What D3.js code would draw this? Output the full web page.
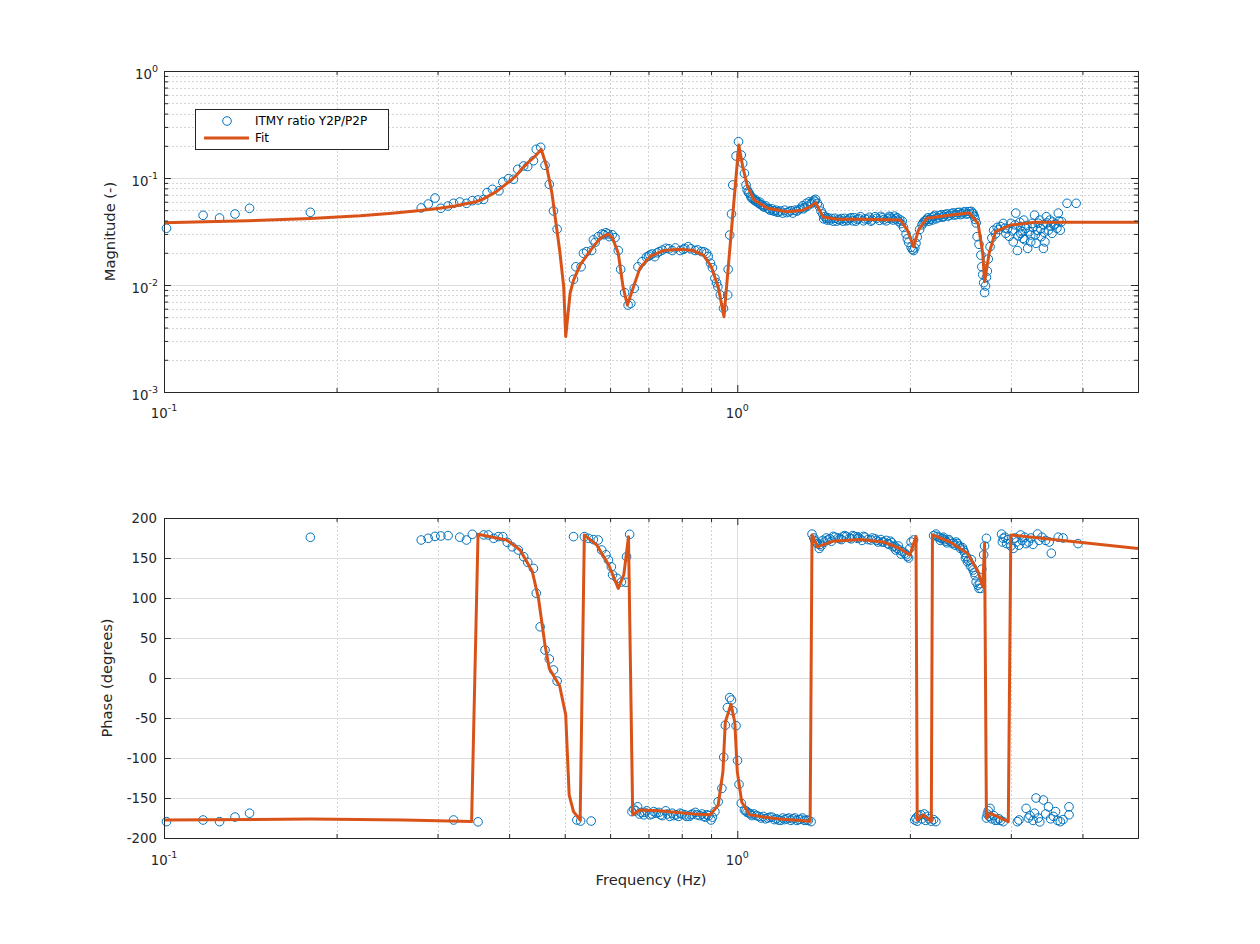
<!DOCTYPE html>
<html>
<head>
<meta charset="utf-8">
<script src="https://cdn.jsdelivr.net/npm/d3@7"></script>
<style>
body { margin: 0; background: #fff; }
svg { font-family: "DejaVu Sans", sans-serif; }
</style>
</head>
<body>
<svg id="fig" width="1260" height="944"></svg>
<script>
// measured ratio, magnitude: [frequency (Hz), magnitude]
var magData = [
  [0.101,0.0339],[0.117,0.0448],[0.125,0.0423],[0.133,0.0461],[0.141,0.0521],[0.180,0.0478],
  [0.281,0.0525],[0.289,0.0571],[0.297,0.065],[0.304,0.0521],[0.313,0.0547],[0.320,0.058],[0.328,0.0597],
  [0.337,0.058],[0.345,0.0614],[0.353,0.0623],[0.361,0.063],[0.366,0.073],[0.374,0.0784],[0.384,0.076],
  [0.390,0.0918],[0.399,0.0986],[0.407,0.0973],[0.414,0.1206],[0.424,0.1295],[0.431,0.128],[0.441,0.145],
  [0.446,0.1855],[0.454,0.1936],[0.462,0.1314],[0.470,0.0873],[0.478,0.0492],[0.485,0.0332],
  [0.518,0.0113],[0.523,0.0148],[0.534,0.0148],[0.539,0.0198],[0.546,0.0205],[0.557,0.021],[0.561,0.0264],
  [0.565,0.025],[0.572,0.0283],[0.581,0.030],[0.585,0.0295],[0.590,0.0308],[0.595,0.030],[0.598,0.0283],
  [0.605,0.0295],[0.612,0.0277],[0.620,0.021],[0.626,0.0140],[0.636,0.00848],[0.645,0.0065],[0.652,0.00672],
  [0.661,0.0093],[0.671,0.0148],[0.682,0.0165],[0.694,0.0182],[0.700,0.0186],[0.704,0.0191],[0.710,0.0195],
  [0.718,0.0184],[0.725,0.0200],[0.731,0.0205],[0.740,0.0212],[0.751,0.0220],[0.760,0.0218],[0.770,0.021],
  [0.780,0.0222],[0.795,0.021],[0.805,0.0215],[0.810,0.0220],[0.821,0.0228],[0.830,0.0218],[0.844,0.021],
  [0.853,0.0213],[0.866,0.0205],[0.875,0.0204],[0.884,0.0198],[0.890,0.0185],[0.898,0.0160],[0.905,0.0145],
  [0.914,0.01155],[0.920,0.0105],[0.925,0.00964],[0.934,0.00807],[0.946,0.00606],[0.962,0.00807],[0.964,0.014],
  [0.970,0.0293],[0.977,0.0461],[0.982,0.0861],[0.995,0.1606],[1.005,0.2185],[1.016,0.164],[1.022,0.137],
  [1.029,0.1106],[1.036,0.086],[1.040,0.078],[1.045,0.074],[1.049,0.072],[1.055,0.068],[1.058,0.0655],
  [1.063,0.0646],[1.070,0.062],[1.075,0.063],[1.078,0.0605],[1.083,0.060],[1.090,0.058],[1.095,0.0595],
  [1.098,0.0565],[1.104,0.056],[1.110,0.054],[1.115,0.0535],[1.120,0.055],[1.130,0.0521],[1.135,0.0515],
  [1.140,0.050],[1.150,0.0515],[1.155,0.0495],[1.160,0.049],[1.170,0.050],[1.175,0.0478],[1.180,0.0484],
  [1.190,0.0492],[1.200,0.047],[1.210,0.050],[1.220,0.0475],[1.230,0.0484],[1.240,0.0495],[1.250,0.047],
  [1.260,0.050],[1.270,0.049],[1.280,0.0505],[1.290,0.0521],[1.300,0.055],[1.305,0.0515],[1.310,0.053],
  [1.320,0.058],[1.325,0.0545],[1.335,0.060],[1.345,0.0575],[1.350,0.059],[1.360,0.062],[1.365,0.0605],
  [1.370,0.0632],[1.380,0.058],[1.390,0.0543],[1.400,0.049],[1.410,0.046],[1.415,0.0415],[1.420,0.0435],
  [1.430,0.042],[1.435,0.0405],[1.440,0.0425],[1.450,0.0404],[1.460,0.0418],[1.470,0.0395],[1.480,0.042],
  [1.490,0.0395],[1.500,0.041],[1.510,0.0404],[1.520,0.0418],[1.530,0.0395],[1.540,0.042],[1.550,0.0398],
  [1.560,0.0405],[1.570,0.042],[1.580,0.0425],[1.590,0.0398],[1.600,0.0425],[1.610,0.0395],[1.620,0.041],
  [1.630,0.0418],[1.640,0.0435],[1.660,0.0398],[1.670,0.0415],[1.690,0.0412],[1.700,0.043],[1.710,0.0395],
  [1.720,0.0405],[1.740,0.0435],[1.750,0.042],[1.770,0.0402],[1.780,0.0438],[1.790,0.0425],[1.800,0.0408],
  [1.820,0.0398],[1.830,0.042],[1.840,0.0438],[1.850,0.0432],[1.860,0.0418],[1.870,0.0405],[1.880,0.044],
  [1.890,0.0415],[1.900,0.0425],[1.910,0.0395],[1.920,0.041],[1.930,0.0375],[1.940,0.0395],[1.950,0.0345],
  [1.970,0.030],[1.980,0.027],[1.990,0.025],[2.010,0.0225],[2.020,0.0215],[2.030,0.021],[2.040,0.0222],
  [2.050,0.0245],[2.060,0.028],[2.080,0.033],[2.100,0.0365],[2.110,0.0382],[2.120,0.0395],[2.130,0.040],
  [2.140,0.041],[2.150,0.0425],[2.160,0.0395],[2.170,0.041],[2.180,0.0425],[2.190,0.0405],[2.200,0.0435],
  [2.210,0.0448],[2.220,0.0415],[2.240,0.0425],[2.250,0.0445],[2.270,0.0455],[2.280,0.043],[2.290,0.0438],
  [2.300,0.0455],[2.320,0.0462],[2.330,0.044],[2.350,0.0448],[2.360,0.0465],[2.380,0.0472],[2.390,0.045],
  [2.410,0.0455],[2.420,0.0475],[2.440,0.0478],[2.450,0.0455],[2.470,0.0462],[2.480,0.048],[2.500,0.0485],
  [2.510,0.046],[2.530,0.0465],[2.540,0.0485],[2.560,0.0488],[2.570,0.047],[2.580,0.0462],[2.590,0.044],
  [2.600,0.041],[2.610,0.038],[2.620,0.0283],[2.640,0.024],[2.660,0.019],[2.670,0.0148],[2.680,0.0125],
  [2.690,0.0105],[2.700,0.0085],[2.710,0.0098],[2.720,0.0118],[2.730,0.0135],[2.740,0.0175],[2.760,0.0228],
  [2.780,0.0275],[2.800,0.0325],[2.820,0.030],[2.840,0.0345],[2.860,0.033],[2.880,0.0351],[2.910,0.0376],
  [2.930,0.034],[2.940,0.0304],[2.960,0.0335],[2.980,0.0285],[3.000,0.0377],[3.020,0.032],[3.030,0.0253],
  [3.050,0.0365],[3.060,0.047],[3.080,0.021],[3.090,0.0288],[3.110,0.0385],[3.120,0.0304],[3.120,0.0351],
  [3.140,0.0315],[3.150,0.0273],[3.160,0.0404],[3.170,0.0265],[3.180,0.0339],[3.200,0.036],[3.210,0.022],
  [3.230,0.0315],[3.250,0.0293],[3.250,0.0253],[3.270,0.0377],[3.280,0.0345],[3.300,0.045],[3.310,0.0295],
  [3.320,0.0245],[3.340,0.0325],[3.350,0.0378],[3.370,0.0404],[3.380,0.0335],[3.390,0.0283],[3.420,0.0364],
  [3.420,0.022],[3.430,0.031],[3.440,0.0253],[3.460,0.0435],[3.470,0.038],[3.490,0.0325],[3.510,0.0404],
  [3.520,0.0355],[3.540,0.0304],[3.550,0.0388],[3.570,0.0364],[3.590,0.0372],[3.610,0.0339],[3.630,0.047],
  [3.640,0.0395],[3.660,0.0325],[3.680,0.0391],[3.760,0.058],[3.900,0.058]
];

// measured ratio, phase: [frequency (Hz), degrees]
var phaseData = [
  [0.101,-179.5],[0.117,-177.5],[0.125,-179.5],[0.133,-173.8],[0.141,-169],[0.180,175.9],
  [0.281,172.5],[0.289,174.6],[0.297,177],[0.304,177.5],[0.313,178],[0.320,-177.5],[0.328,176],
  [0.337,172.5],[0.345,179.6],[0.353,-179.8],[0.361,178.8],[0.368,178.8],[0.376,174.6],[0.383,176.7],
  [0.390,176.7],[0.397,169.6],[0.405,164],[0.415,160],[0.424,151.6],[0.431,144.6],[0.441,137],
  [0.446,106],[0.453,64],[0.462,35],[0.470,23.8],[0.478,10],[0.485,-3.8],
  [0.518,176.7],[0.525,-177.5],[0.533,-178.8],[0.541,176.7],[0.550,174.6],[0.556,-178.8],[0.561,173],
  [0.572,172.5],[0.580,160],[0.590,154],[0.596,147.5],[0.603,139],[0.606,129],[0.617,124.6],[0.628,120],
  [0.639,119.6],[0.641,151.6],[0.649,179.6],[0.655,-167],[0.660,-164],[0.665,-166],[0.670,-161],[0.675,-170],
  [0.680,-168],[0.687,-171],[0.690,-168],[0.695,-166],[0.704,-171],[0.710,-170],[0.715,-167],[0.722,-169],
  [0.730,-168],[0.735,-171],[0.740,-172],[0.750,-166],[0.755,-170],[0.762,-173],[0.770,-169],[0.775,-172],
  [0.782,-171],[0.790,-173],[0.795,-169],[0.800,-170],[0.810,-171],[0.815,-173],[0.825,-173],[0.830,-171],
  [0.835,-170],[0.845,-168],[0.850,-171],[0.860,-172],[0.868,-170],[0.874,-173],[0.880,-174],[0.885,-171],
  [0.892,-172],[0.900,-177.5],[0.905,-174],[0.914,-167],[0.926,-154.6],
  [0.940,-138],[0.947,-99],[0.953,-59],[0.961,-37],[0.970,-24.6],[0.977,-27.5],[0.982,-41],[0.995,-59.6],
  [1.001,-103],[1.007,-133],[1.016,-156.6],[1.029,-165],[1.035,-166],[1.040,-168],[1.049,-169],[1.055,-170],
  [1.060,-172],[1.070,-170],[1.080,-172],[1.090,-173],[1.100,-175],[1.110,-173],[1.120,-176],[1.130,-175],
  [1.140,-174],[1.150,-174],[1.160,-177],[1.170,-176],[1.180,-177.5],[1.190,-178],[1.200,-175],[1.210,-177],
  [1.220,-176],[1.230,-175],[1.240,-178],[1.250,-176],[1.260,-175],[1.270,-178],[1.280,-177],[1.290,-176.6],
  [1.300,-175],[1.310,-178],[1.320,-177.5],[1.330,-178],[1.345,-179.5],
  [1.350,179.9],[1.360,175],[1.365,172],[1.370,170],[1.380,168],[1.390,162],[1.395,167],[1.400,165],
  [1.410,172],[1.420,170],[1.430,175],[1.440,172.5],[1.450,174],[1.460,171],[1.470,177],[1.480,176],
  [1.500,175],[1.510,174],[1.520,173],[1.530,177],[1.540,178],[1.550,176.7],[1.570,175],[1.580,174],
  [1.590,178],[1.600,177],[1.620,176.7],[1.620,174.6],[1.630,175],[1.650,172],[1.660,177],[1.670,176],
  [1.690,173],[1.710,172.5],[1.720,175],[1.740,174],[1.750,172],[1.760,170],[1.780,173],[1.790,170],
  [1.800,170],[1.820,172],[1.830,168],[1.840,167],[1.850,171],[1.860,169],[1.870,164],[1.880,165],
  [1.890,160],[1.900,162],[1.910,165],[1.920,160],[1.930,155],[1.940,158],[1.960,156],[1.970,154],
  [1.980,152],[1.990,150],[2.000,162],[2.010,170],[2.030,172.5],
  [2.040,-177.5],[2.050,-175],[2.060,-179],[2.070,-172],[2.090,-171],[2.100,-176],[2.120,-170],[2.130,-178],
  [2.150,-173],[2.160,-176],[2.180,-179],[2.200,-177],[2.220,-179.5],
  [2.200,178],[2.220,179.9],[2.230,177],[2.250,176],[2.260,172],[2.270,174],[2.280,174.6],[2.290,176],
  [2.300,173],[2.310,171],[2.320,169],[2.340,173],[2.350,171],[2.370,168],[2.380,169],[2.400,166],
  [2.410,170],[2.420,168],[2.440,165],[2.450,162],[2.470,163],[2.480,160],[2.490,157],[2.500,150],
  [2.510,152],[2.520,145.4],[2.530,147],[2.550,140],[2.560,148],[2.570,138],[2.580,135],[2.590,132],
  [2.600,128],[2.610,120],[2.630,116],[2.640,112],[2.650,118],[2.660,112],
  [2.670,136],[2.690,154],[2.700,165],[2.720,174.6],
  [2.720,-175],[2.730,-170],[2.740,-166],[2.750,-173],[2.760,-163],[2.780,-176],[2.800,-172],[2.820,-178],
  [2.840,-177.5],[2.860,-176],[2.880,-178],[2.910,-179.6],
  [2.890,179.9],[2.900,170],[2.910,174.6],[2.930,176],[2.950,168],[2.970,173],[3.000,165],[3.030,162],
  [3.050,175],[3.070,170],[3.100,166],[3.120,178.8],[3.140,172],[3.170,176],[3.190,168],[3.220,170],
  [3.250,175],[3.280,167],[3.340,180],[3.360,172],[3.400,176],[3.450,172],[3.500,170],[3.530,156],
  [3.630,176],[3.700,175],[3.930,168],
  [3.080,-179.6],[3.100,-177.5],[3.190,-163],[3.220,-175],[3.240,-172],[3.280,-178],[3.300,-169],[3.320,-150],
  [3.350,-175],[3.370,-179.9],[3.420,-152.5],[3.450,-170],[3.490,-161],[3.520,-176],[3.560,-173],[3.590,-167],
  [3.620,-178],[3.660,-179.6],[3.700,-177],[3.790,-161],[3.790,-171]
];

// fitted model, magnitude
var fitMag = [
  [0.1,0.0382],[0.14,0.0398],[0.18,0.0418],[0.22,0.0443],[0.25,0.0468],[0.28,0.0496],[0.3,0.052],
  [0.32,0.0545],[0.35,0.060],[0.36,0.0635],[0.38,0.0745],[0.39,0.083],[0.41,0.103],[0.42,0.12],
  [0.43,0.137],[0.445,0.162],[0.455,0.185],[0.465,0.128],[0.475,0.072],[0.49,0.021],[0.498,0.0096],
  [0.502,0.0033],[0.511,0.0084],[0.518,0.0111],[0.532,0.0154],[0.555,0.0212],[0.576,0.0273],[0.596,0.030],
  [0.606,0.0273],[0.620,0.0198],[0.632,0.0096],[0.643,0.0065],[0.659,0.0096],[0.676,0.0143],[0.704,0.0184],
  [0.743,0.021],[0.795,0.0216],[0.838,0.021],[0.873,0.019],[0.901,0.0148],[0.926,0.0096],[0.948,0.00506],
  [1.006,0.203],[1.022,0.128],[1.042,0.083],[1.07,0.0623],[1.13,0.0521],[1.22,0.0484],[1.30,0.050],
  [1.34,0.054],[1.37,0.0588],[1.41,0.0435],[1.49,0.0411],[1.64,0.0411],[1.925,0.0404],[1.98,0.0325],
  [2.03,0.0228],[2.07,0.0325],[2.14,0.042],[2.36,0.045],[2.54,0.047],[2.63,0.0376],[2.68,0.0198],
  [2.70,0.0107],[2.75,0.0198],[2.82,0.0315],[3.0,0.0364],[3.30,0.0385],[5.0,0.0385]
];

// fitted model, phase
var fitPhase = [
  [0.1,-177.5],[0.18,-176.3],[0.262,-177.5],[0.344,-179.5],[0.353,179.6],[0.396,172.5],[0.418,160],
  [0.439,133],[0.45,99.6],[0.462,41],[0.47,12],[0.49,-10],[0.502,-46],[0.509,-146],[0.518,-167],
  [0.532,-177.5],[0.541,178.8],[0.569,166],[0.597,141],[0.62,112],[0.634,129],[0.646,176.7],[0.657,-171],
  [0.676,-165],[0.731,-166],[0.839,-170],[0.897,-171],[0.926,-159],[0.944,-117],[0.953,-55],[0.975,-33],
  [0.99,-55],[1.0,-117],[1.018,-155],[1.05,-171],[1.17,-176],[1.34,-179],[1.35,178.8],[1.38,164],
  [1.47,171],[1.64,173],[1.80,170],[1.92,162],[2.0,153.8],[2.05,177],[2.06,-177.5],[2.11,-171],
  [2.18,-179.5],[2.19,178.8],[2.35,170],[2.52,156],[2.63,133],[2.68,114],[2.70,168],[2.72,-175],
  [2.76,-169],[2.97,-179.5],[3.0,178.8],[5.0,162]
];

var xMajorTicks = [0.1, 1];
var xMinorTicks = [0.2, 0.3, 0.4, 0.5, 0.6, 0.7, 0.8, 0.9, 2, 3, 4];
var magMajorTicks = [0.001, 0.01, 0.1, 1];
var magTickExp = ["-3", "-2", "-1", "0"];
var phaseTicks = [-200, -150, -100, -50, 0, 50, 100, 150, 200];

var legendNames = ["ITMY ratio Y2P/P2P", "Fit"];

var blue = "#0072BD", orange = "#D95319", ink = "#262626";

var svg = d3.select("#fig");
var left = 164, right = 1138;
var magTop = 71, magBottom = 392;
var phTop = 518, phBottom = 838;

var x = d3.scaleLog().domain([0.1, 5]).range([left, right]);
var yMag = d3.scaleLog().domain([0.001, 1]).range([magBottom, magTop]);
var yPh = d3.scaleLinear().domain([-200, 200]).range([phBottom, phTop]);

// minor y ticks of the magnitude plot: 2..9 in each decade
var magMinorTicks = yMag.ticks().filter(function(d) {
    return magMajorTicks.indexOf(d) < 0 && d > 0.001 && d < 1;
});

function gridLines(g, xs, ys, top, bottom, dashed) {
    var sel = g.append("g");
    xs.forEach(function(v) {
        var px = Math.round(x(v)) + 0.5;
        sel.append("line")
            .attr("x1", px).attr("x2", px)
            .attr("y1", top).attr("y2", bottom);
    });
    ys.forEach(function(p) {
        var py = Math.round(p) + 0.5;
        sel.append("line")
            .attr("x1", left).attr("x2", right)
            .attr("y1", py).attr("y2", py);
    });
    if (dashed) {
        sel.selectAll("line").attr("stroke", "#d4d4d4").attr("stroke-width", 1)
            .attr("stroke-dasharray", "2,2");
    } else {
        sel.selectAll("line").attr("stroke", "#dedede").attr("stroke-width", 1);
    }
}

function boxAxes(yScale, yMaj, yMin, top, bottom) {
    var sets = [
        [d3.axisBottom(x), xMajorTicks, 7, "translate(0," + bottom + ")"],
        [d3.axisBottom(x), xMinorTicks, 4, "translate(0," + bottom + ")"],
        [d3.axisTop(x), xMajorTicks, 7, "translate(0," + top + ")"],
        [d3.axisTop(x), xMinorTicks, 4, "translate(0," + top + ")"],
        [d3.axisLeft(yScale), yMaj, 7, "translate(" + left + ",0)"],
        [d3.axisRight(yScale), yMaj, 7, "translate(" + right + ",0)"]
    ];
    if (yMin.length) {
        sets.push([d3.axisLeft(yScale), yMin, 4, "translate(" + left + ",0)"]);
        sets.push([d3.axisRight(yScale), yMin, 4, "translate(" + right + ",0)"]);
    }
    sets.forEach(function(s) {
        var g = svg.append("g")
            .attr("transform", s[3])
            .call(s[0].tickValues(s[1]).tickSize(-s[2]).tickSizeOuter(0).tickFormat(""));
        g.selectAll("path, line").attr("stroke", ink).attr("stroke-width", 1);
        g.selectAll("text").remove();
    });
}

function powLabel(g, px, py, anchor, exp) {
    var t = g.append("text")
        .attr("x", px).attr("y", py)
        .attr("text-anchor", anchor)
        .attr("fill", ink)
        .style("font-size", "13.3px");
    t.append("tspan").text("10");
    t.append("tspan").attr("dy", -7).style("font-size", "9.5px").text(exp);
}

// ---------- magnitude panel ----------
var gMag = svg.append("g");
gridLines(gMag, xMinorTicks, magMinorTicks.map(yMag), magTop, magBottom, true);
gridLines(gMag, [1], [0.01, 0.1].map(yMag), magTop, magBottom, false);

gMag.selectAll("circle.mag")
    .data(magData)
    .enter()
    .append("circle")
    .attr("class", "mag")
    .attr("cx", function(d) { return x(d[0]); })
    .attr("cy", function(d) { return yMag(d[1]); })
    .attr("r", 4.3)
    .attr("fill", "none")
    .attr("stroke", blue)
    .attr("stroke-width", 1);

var magLine = d3.line()
    .x(function(d) { return x(d[0]); })
    .y(function(d) { return yMag(d[1]); });

gMag.append("path")
    .datum(fitMag)
    .attr("d", magLine)
    .attr("fill", "none")
    .attr("stroke", orange)
    .attr("stroke-width", 3)
    .attr("stroke-linejoin", "round");

boxAxes(yMag, magMajorTicks, magMinorTicks, magTop, magBottom);

magMajorTicks.forEach(function(v, i) {
    powLabel(svg, 158, yMag(v) + 8, "end", magTickExp[i]);
});
powLabel(svg, x(0.1), magBottom + 26, "middle", "-1");
powLabel(svg, x(1), magBottom + 26, "middle", "0");

svg.append("text")
    .attr("transform", "translate(115," + ((magTop + magBottom) / 2) + ") rotate(-90)")
    .attr("text-anchor", "middle")
    .attr("fill", ink)
    .style("font-size", "14.7px")
    .text("Magnitude (-)");

// ---------- phase panel ----------
var gPh = svg.append("g");
gridLines(gPh, xMinorTicks, [], phTop, phBottom, true);
gridLines(gPh, [1], phaseTicks.slice(1, -1).map(yPh), phTop, phBottom, false);

gPh.selectAll("circle.ph")
    .data(phaseData)
    .enter()
    .append("circle")
    .attr("class", "ph")
    .attr("cx", function(d) { return x(d[0]); })
    .attr("cy", function(d) { return yPh(d[1]); })
    .attr("r", 4.3)
    .attr("fill", "none")
    .attr("stroke", blue)
    .attr("stroke-width", 1);

var phLine = d3.line()
    .x(function(d) { return x(d[0]); })
    .y(function(d) { return yPh(d[1]); });

gPh.append("path")
    .datum(fitPhase)
    .attr("d", phLine)
    .attr("fill", "none")
    .attr("stroke", orange)
    .attr("stroke-width", 3)
    .attr("stroke-linejoin", "round");

boxAxes(yPh, phaseTicks, [], phTop, phBottom);

phaseTicks.forEach(function(v) {
    svg.append("text")
        .attr("x", 157).attr("y", yPh(v) + 4.5)
        .attr("text-anchor", "end")
        .attr("fill", ink)
        .style("font-size", "13.3px")
        .text(v);
});
powLabel(svg, x(0.1), phBottom + 27, "middle", "-1");
powLabel(svg, x(1), phBottom + 27, "middle", "0");

svg.append("text")
    .attr("transform", "translate(112," + ((phTop + phBottom) / 2) + ") rotate(-90)")
    .attr("text-anchor", "middle")
    .attr("fill", ink)
    .style("font-size", "14.7px")
    .text("Phase (degrees)");

svg.append("text")
    .attr("x", (left + right) / 2).attr("y", 885)
    .attr("text-anchor", "middle")
    .attr("fill", ink)
    .style("font-size", "14.7px")
    .text("Frequency (Hz)");

// ---------- legend ----------
var lg = svg.append("g").attr("transform", "translate(195.5,109.5)");
lg.append("rect")
    .attr("width", 193).attr("height", 40)
    .attr("fill", "#fff").attr("stroke", ink).attr("stroke-width", 1);
lg.append("circle")
    .attr("cx", 31.5).attr("cy", 11.5).attr("r", 4.3)
    .attr("fill", "none").attr("stroke", blue).attr("stroke-width", 1);
lg.append("line")
    .attr("x1", 8.5).attr("x2", 53.5).attr("y1", 28.5).attr("y2", 28.5)
    .attr("stroke", orange).attr("stroke-width", 3);
lg.selectAll("text.lg")
    .data(legendNames)
    .enter()
    .append("text")
    .attr("class", "lg")
    .attr("x", 59.5)
    .attr("y", function(d, i) { return 15.5 + i * 17; })
    .attr("fill", "#000")
    .style("font-size", "12px")
    .text(function(d) { return d; });
</script>
</body>
</html>
